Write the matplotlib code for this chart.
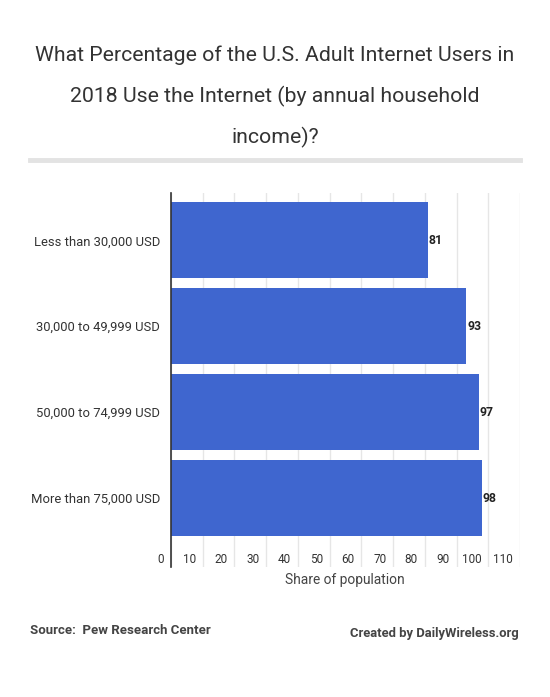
import matplotlib
matplotlib.use('Agg')
import matplotlib.pyplot as plt
import matplotlib.transforms as mtransforms

plt.rcParams['font.family'] = ['Roboto', 'DejaVu Sans']

categories = ['Less than 30,000 USD', '30,000 to 49,999 USD',
              '50,000 to 74,999 USD', 'More than 75,000 USD']
values = [81, 93, 97, 98]
xticks = [0, 10, 20, 30, 40, 50, 60, 70, 80, 90, 100, 110]

bar_color = '#3f66cf'
text_color = '#333333'

W, H = 550, 697
fig = plt.figure(figsize=(5.5, 6.97), dpi=100)

# axes placed in pixel coords: x 171..520, y 193..567
left, right, top, bottom = 171, 520, 193, 567
ax = fig.add_axes([left / W, 1 - bottom / H, (right - left) / W, (bottom - top) / H])

ypos = list(range(len(categories)))
ax.barh(ypos, values, height=0.885, color=bar_color, zorder=2)
ax.set_ylim(3.80, -0.55)
ax.set_xlim(0, 110)

for y, v in zip(ypos, values):
    ax.text(v + 0.3, y, str(v), va='center', ha='left', fontsize=8.8,
            fontweight='bold', color='#222222')

ax.set_yticks(ypos)
ax.set_yticklabels(categories, fontsize=9.4, color=text_color)
ax.tick_params(axis='y', length=0, pad=8)

ax.set_xticks(xticks)
ax.set_xticklabels([str(t) for t in xticks], fontsize=8.5, color=text_color)
ax.tick_params(axis='x', length=0, pad=-10)
offset = mtransforms.ScaledTranslation(-5 / 72, 0, fig.dpi_scale_trans)
for lbl in ax.get_xticklabels():
    lbl.set_horizontalalignment('right')
    lbl.set_transform(lbl.get_transform() + offset)

ax.grid(axis='x', color='#e6e6e6', linewidth=1, zorder=0)
for s in ['top', 'right', 'bottom']:
    ax.spines[s].set_visible(False)
ax.spines['left'].set_color('#333333')
ax.spines['left'].set_linewidth(1.2)
ax.spines['left'].set_zorder(3)

fig.text(345 / W, 1 - 580 / H, 'Share of population', ha='center', va='center',
         fontsize=9.9, color='#444444')

title_lines = ['What Percentage of the U.S. Adult Internet Users in',
               '2018 Use the Internet (by annual household',
               'income)?']
for i, line in enumerate(title_lines):
    fig.text(0.5, 1 - (55 + 41 * i) / H, line, ha='center', va='center',
             fontsize=15.3, color=text_color)

fig.add_artist(plt.Line2D([30 / W, 520 / W], [1 - 160 / H, 1 - 160 / H],
                          color='#e3e3e3', linewidth=3.5))

fig.text(30 / W, 1 - 630 / H, 'Source:  Pew Research Center', ha='left', va='center',
         fontsize=9.5, fontweight='bold', color='#444444')
fig.text(519 / W, 1 - 633 / H, 'Created by DailyWireless.org', ha='right', va='center',
         fontsize=9.4, fontweight='bold', color='#444444')

fig.savefig('out.png', dpi=100)
